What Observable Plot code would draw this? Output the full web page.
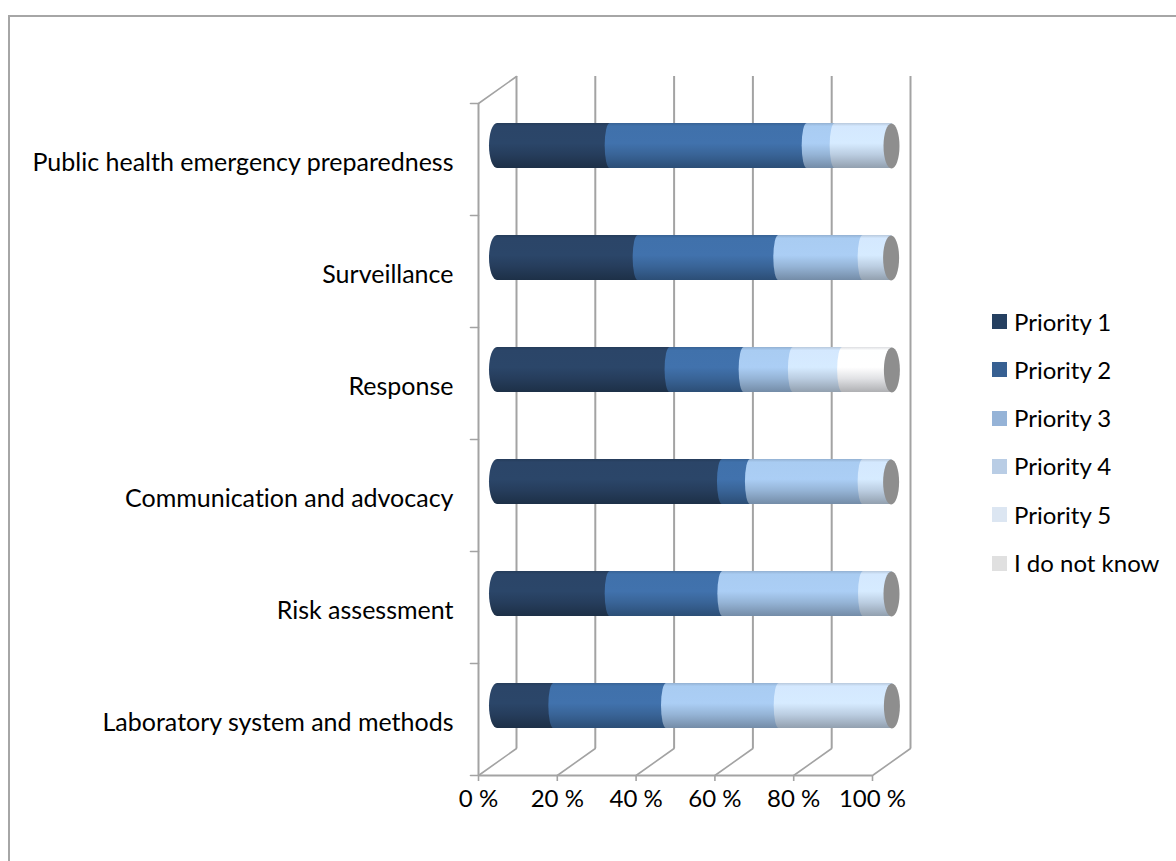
<!DOCTYPE html>
<html>
<head>
<meta charset="utf-8">
<script src="https://cdn.jsdelivr.net/npm/d3@7"></script>
<script src="https://cdn.jsdelivr.net/npm/@observablehq/plot@0.6"></script>
<style>
  html, body { margin: 0; padding: 0; background: #fff; overflow: hidden; width: 1176px; height: 861px; }
  #border { position: absolute; left: 8px; top: 15px; width: 1400px; height: 1100px;
            border-left: 2px solid #a6a6a6; border-top: 2px solid #a6a6a6; }
  #chart { position: absolute; left: 0; top: 0; }
  #chart svg text { font-variant-ligatures: none; }
  #legend { position: absolute; left: 0; top: 0; font-family: Lato, sans-serif; font-size: 24px; color: #000;
            font-variant-ligatures: none; }
  .sw { position: absolute; width: 15px; height: 15px; }
  .lb { position: absolute; line-height: 24px; white-space: nowrap; }
</style>
</head>
<body>
<div id="border"></div>
<div id="chart"></div>
<div id="legend"></div>
<script>
// ---- data ----
const tasks = [
  "Public health emergency preparedness",
  "Surveillance",
  "Response",
  "Communication and advocacy",
  "Risk assessment",
  "Laboratory system and methods"
];
const seriesNames = ["Priority 1", "Priority 2", "Priority 3", "Priority 4", "Priority 5", "I do not know"];
const priority1 = [28.6, 35.7, 43.8, 57.1, 28.6, 14.3];
const priority2 = [50.0, 35.7, 18.8, 7.1, 28.6, 28.6];
const priority3 = [7.1, 21.4, 12.5, 28.6, 35.7, 28.6];
const priority4 = [14.3, 7.1, 12.5, 7.1, 7.1, 28.6];
const priority5 = [0, 0, 12.5, 0, 0, 0];
const doNotKnow = [0, 0, 0, 0, 0, 0];
const xTicks = [0, 20, 40, 60, 80, 100];
const xTickLabels = ["0 %", "20 %", "40 %", "60 %", "80 %", "100 %"];

const barColors = ["#2a4466", "#3f6fa8", "#a6c8ee", "#d0e4fa", "#fafcff", "#e6e6e6"];
const legendColors = ["#254061", "#376092", "#95b3d7", "#b9cde5", "#dce6f2", "#e0e0e0"];

// ---- table for Plot ----
const seriesValues = [priority1, priority2, priority3, priority4, priority5, doNotKnow];
const rows = seriesNames.flatMap((s, k) => tasks.map((t, i) => ({task: t, series: s, value: seriesValues[k][i]})));

const gradIds = seriesNames.map((s, k) => `cyl${k}`);

// 3D depth: back plane is 38px right, 27px up of the front plane; bars sit at mid depth
const depthDX = 38, depthDY = 27;
const halfDX = depthDX / 2, halfDY = depthDY / 2;
const diagLen = Math.hypot(depthDX, depthDY);
const diagAngle = Math.atan2(depthDX, depthDY) * 180 / Math.PI;
const halfBand = 56;
const frameStroke = "#a3a3a3";

const lineShape = {draw(ctx, l) { ctx.moveTo(0, 0); ctx.lineTo(0, -l); }};
const capShape = {draw(ctx) {
  const a = 8, b = 22.5, k = 0.5523;
  ctx.moveTo(a, 0);
  ctx.bezierCurveTo(a, b * k, a * k, b, 0, b);
  ctx.bezierCurveTo(-a * k, b, -a, b * k, -a, 0);
  ctx.bezierCurveTo(-a, -b * k, -a * k, -b, 0, -b);
  ctx.bezierCurveTo(a * k, -b, a, -b * k, a, 0);
  ctx.closePath();
}};

const stackOpts = {x: "value", y: "task", fill: "series", order: seriesNames};
const barStyle = {dy: -halfDY, insetTop: 33.5, insetBottom: 33.5, ry: 22.5};
const diagStyle = {frameAnchor: "bottom", dx: -halfDX, length: diagLen, rotate: diagAngle, anchor: "start",
                   shape: lineShape, stroke: frameStroke, strokeWidth: 1.6};
const yTickStyle = {y: d => d, frameAnchor: "left", dx: -halfDX, length: 8, rotate: -90, anchor: "start",
                    shape: lineShape, stroke: frameStroke, strokeWidth: 1.6};

const chart = Plot.plot({
  width: 1176,
  height: 861,
  marginLeft: 497,
  marginRight: 285,
  marginTop: 103,
  marginBottom: 86,
  style: {fontFamily: "Lato, sans-serif", color: "#000", background: "transparent", overflow: "visible"},
  x: {domain: [0, 100]},
  y: {domain: tasks, padding: 0},
  color: {domain: seriesNames, range: gradIds.map(id => `url(#${id})`)},
  marks: [
    // back wall gridlines
    Plot.ruleX(xTicks, {x: d => d, dx: halfDX, dy: -depthDY, stroke: frameStroke, strokeWidth: 2}),
    // floor diagonals
    Plot.vector(xTicks, {x: d => d, ...diagStyle}),
    // left wall: top diagonal and front vertical
    Plot.vector(xTicks.slice(0, 1), {x: d => d, ...diagStyle, frameAnchor: "top"}),
    Plot.ruleX(xTicks.slice(0, 1), {x: d => d, dx: -halfDX, stroke: frameStroke, strokeWidth: 2}),
    // front bottom line
    Plot.ruleY(tasks.slice(-1), {y: d => d, dy: halfBand, dx: -halfDX, stroke: frameStroke, strokeWidth: 2}),
    // category ticks (between categories)
    Plot.vector(tasks, {...yTickStyle, dy: -halfBand}),
    Plot.vector(tasks.slice(-1), {...yTickStyle, dy: halfBand}),
    // axes
    Plot.axisX(xTicks, {tickFormat: (d, i) => xTickLabels[i], tickSize: 6, tickPadding: 8, dx: -halfDX,
                        fontSize: 24, stroke: frameStroke, strokeWidth: 1.6, fill: "#000", label: null}),
    Plot.axisY({tickSize: 0, tickPadding: 44, fontSize: 25, dy: 3, fill: "#000", label: null}),
    // cylinders
    Plot.barX(rows, Plot.filter(d => d.series === seriesNames[0] && d.value > 0,
      Plot.stackX({...stackOpts, ...barStyle, insetLeft: -8, insetRight: -8, rx: 8}))),
    Plot.barX(rows, Plot.filter(d => d.series !== seriesNames[0] && d.value > 0,
      Plot.stackX({...stackOpts, ...barStyle, insetLeft: -5, insetRight: -5, rx: 5}))),
    // end caps
    Plot.dot(rows, Plot.groupY({x: "sum"}, {x: "value", y: "task", symbol: capShape, fill: "#8e8e8e", stroke: "none", dy: -halfDY}))
  ]
});

// cylinder shading gradients
const svg = d3.select(chart.tagName.toLowerCase() === "svg" ? chart : chart.querySelector("svg"));
const defs = svg.insert("defs", ":first-child");
barColors.forEach((c, k) => {
  const g = defs.append("linearGradient").attr("id", gradIds[k])
    .attr("x1", 0).attr("y1", 0).attr("x2", 0).attr("y2", 1);
  const base = d3.color(c);
  [[0, base.darker(0.35)], [0.07, base.brighter(0.05)], [0.45, base.brighter(0.08)],
   [0.7, base.darker(0.3)], [1, base.darker(1.0)]].forEach(([o, col]) => {
    g.append("stop").attr("offset", o).attr("stop-color", col.formatHex());
  });
});

document.getElementById("chart").append(chart);

// legend
const legend = d3.select("#legend");
const legendX = 992, legendY0 = 321.5, legendStep = 48.3;
seriesNames.forEach((s, k) => {
  const cy = legendY0 + k * legendStep;
  legend.append("div").attr("class", "sw")
    .style("left", legendX + "px").style("top", (cy - 7.5) + "px").style("background", legendColors[k]);
  legend.append("div").attr("class", "lb")
    .style("left", (legendX + 22) + "px").style("top", (cy - 12) + "px").text(s);
});
</script>
</body>
</html>
